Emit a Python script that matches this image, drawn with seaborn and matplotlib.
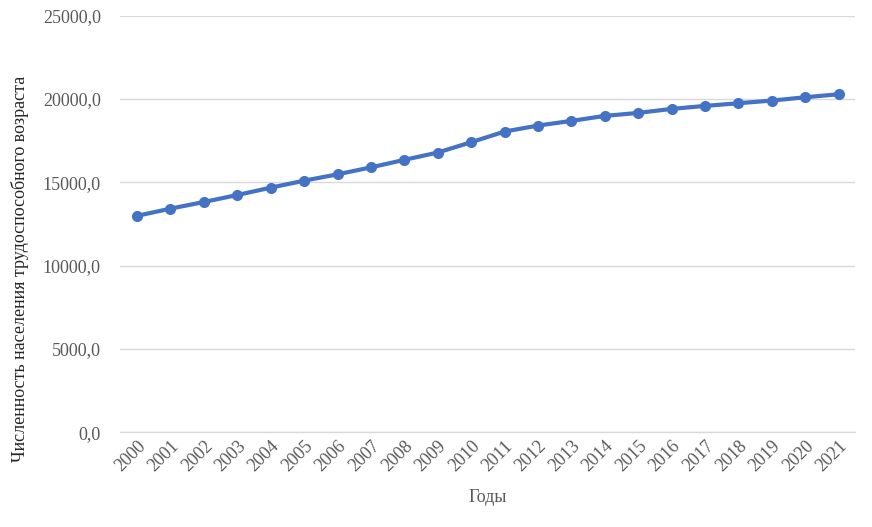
import matplotlib
matplotlib.use("Agg")
import matplotlib.pyplot as plt
import seaborn as sns
import pandas as pd
from matplotlib.ticker import FuncFormatter

years = list(range(2000, 2022))
population = [12990, 13420, 13820, 14240, 14680, 15100, 15480, 15900, 16350, 16790,
              17410, 18050, 18410, 18690, 18990, 19170, 19410, 19590, 19750, 19910,
              20110, 20290]

df = pd.DataFrame({"year": years, "value": population})

sns.set_theme(style="white")
plt.rcParams["font.family"] = ["Liberation Serif", "DejaVu Serif"]

fig = plt.figure(figsize=(8.72, 5.27), dpi=100)
ax = fig.add_axes([0.138, 0.180, 0.843, 0.790])

sns.lineplot(data=df, x="year", y="value", ax=ax, color="#4472C4", linewidth=3,
             marker="o", markersize=8, markeredgewidth=0)

ax.set_ylim(0, 25000)
ax.set_xlim(1999.5, 2021.5)
ax.set_yticks([0, 5000, 10000, 15000, 20000, 25000])
ax.yaxis.set_major_formatter(FuncFormatter(lambda v, p: f"{v:.1f}".replace(".", ",")))
ax.set_xticks(years)
ax.set_xticklabels([str(y) for y in years], rotation=45, ha="right", rotation_mode="anchor")
ax.grid(axis="y", color="#d9d9d9", linewidth=1)
ax.set_axisbelow(True)
for s in ax.spines.values():
    s.set_visible(False)
ax.spines["bottom"].set_visible(True)
ax.spines["bottom"].set_color("#d9d9d9")
ax.spines["bottom"].set_linewidth(1)
ax.tick_params(axis="both", colors="#595959", labelsize=13, length=0)
ax.tick_params(axis="y", pad=14)
ax.tick_params(axis="x", pad=4)

ax.set_xlabel("Годы", fontsize=13, color="#595959", labelpad=10)
ax.set_ylabel("Численность населения трудоспособного возраста", fontsize=13,
              color="#262626")
ax.yaxis.set_label_coords(-0.124, 0.392)

fig.savefig("out.png", dpi=100)
